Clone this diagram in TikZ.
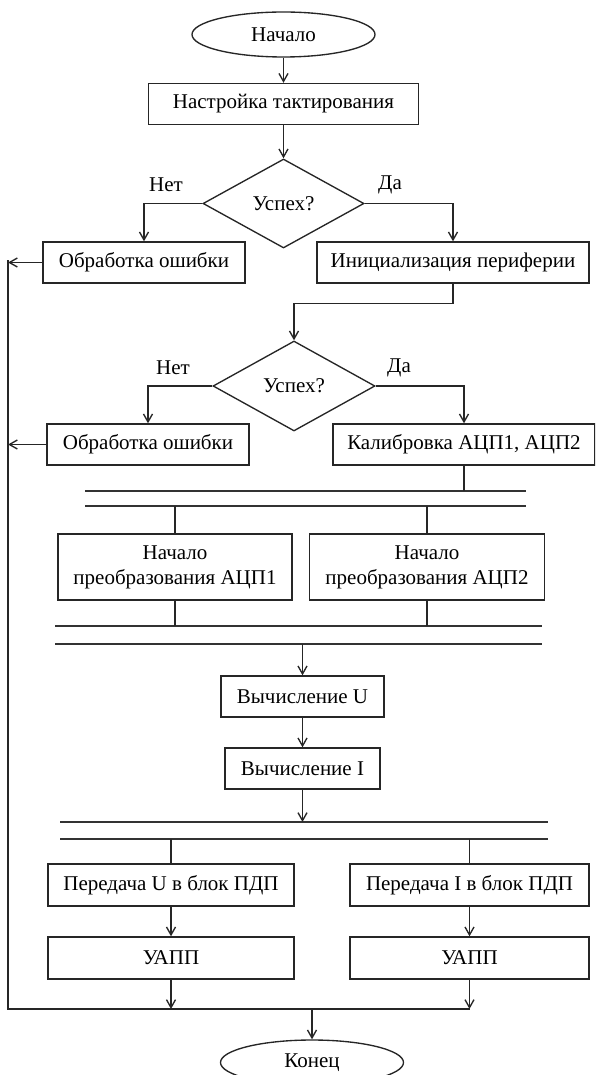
\documentclass[tikz,border=0pt]{standalone}
\usepackage{fontspec}
\setmainfont{Liberation Serif}
\usetikzlibrary{shapes.geometric,arrows.meta}
\begin{document}
\begin{tikzpicture}[x=1pt,y=-1pt,
  every node/.style={font=\fontsize{21}{25}\selectfont, inner sep=0pt, text=black},
  ln/.style={draw=black!85, line width=1.35pt},
  arr/.style={ln, -{Straight Barb[length=8pt,width=9pt,line width=1.35pt]}},
  blk/.style={ln, rectangle, minimum height=41pt},
  term/.style={ln, ellipse, minimum width=183pt, minimum height=45pt},
  cond/.style={ln, diamond, minimum width=161pt, minimum height=89pt},
  bar/.style={draw=black!80, line width=1.35pt}
]
\path[use as bounding box] (0,0) rectangle (595,1075);
\clip (0,0) rectangle (595,1075);

% nodes
\node[term] (start) at (283.5,34.5) {Начало};
\node[blk, minimum width=270pt] (clk) at (283.5,104) {Настройка тактирования};
\node[cond] (d1) at (283.5,203.5) {Успех?};
\node[blk, minimum width=202pt] (err1) at (144,262.5) {Обработка ошибки};
\node[blk, minimum width=272pt] (init) at (453,262.5) {Инициализация периферии};
\node (no1) at (166,185) {Нет};
\node (yes1) at (390,185) {Да};

\node[cond, minimum width=162pt, minimum height=90pt] (d2) at (294,386) {Успех?};
\node[blk, minimum width=202pt] (err2) at (148,444.5) {Обработка ошибки};
\node[blk, minimum width=262pt] (cal) at (464,444.5) {Калибровка АЦП1, АЦП2};
\node (no2) at (173,368) {Нет};
\node (yes2) at (399,368) {Да};

\node[blk, minimum width=234pt, minimum height=66pt, align=center] (adc1) at (175,567) {Начало\\преобразования АЦП1};
\node[blk, minimum width=235pt, minimum height=66pt, align=center] (adc2) at (427,567) {Начало\\преобразования АЦП2};

\node[blk, minimum width=163pt] (calcU) at (302.5,696.5) {Вычисление U};
\node[blk, minimum width=155pt] (calcI) at (302.5,768.5) {Вычисление I};

\node[blk, minimum width=246pt, minimum height=42pt] (txU) at (171,885) {Передача U в блок ПДП};
\node[blk, minimum width=239pt, minimum height=42pt] (txI) at (469.5,885) {Передача I в блок ПДП};
\node[blk, minimum width=246pt, minimum height=42pt] (uappU) at (171,958) {УАПП};
\node[blk, minimum width=239pt, minimum height=42pt] (uappI) at (469.5,958) {УАПП};

\node[term] (end) at (312,1062.5) {Конец};

% coordinates
\coordinate (b1l) at (85,491);  \coordinate (b1r) at (526,491);
\coordinate (b2l) at (85,506);  \coordinate (b2r) at (526,506);
\coordinate (b3l) at (55,626);  \coordinate (b3r) at (542,626);
\coordinate (b4l) at (55,644);  \coordinate (b4r) at (542,644);
\coordinate (b5l) at (60,822);  \coordinate (b5r) at (548,822);
\coordinate (b6l) at (60,839);  \coordinate (b6r) at (548,839);
\coordinate (rtop) at (8,260);
\coordinate (rbot) at (8,1009);
\coordinate (join) at (470,1009);
\coordinate (mid) at (312,1009);

% bars
\draw[bar] (b1l) -- (b1r);
\draw[bar] (b2l) -- (b2r);
\draw[bar] (b3l) -- (b3r);
\draw[bar] (b4l) -- (b4r);
\draw[bar] (b5l) -- (b5r);
\draw[bar] (b6l) -- (b6r);

% connectors
\draw[arr] (start) -- (clk);
\draw[arr] (clk) -- (d1);
\draw[arr] (d1.west) -| (err1.north);
\draw[arr] (d1.east) -| (init.north);
\draw[arr] (init.south) -- ++(0,20) -| (d2.north);
\draw[arr] (d2.west) -| (err2.north);
\draw[arr] (d2.east) -| (cal.north);
\draw[arr] (err1.west) -- (err1.west -| rtop);
\draw[arr] (err2.west) -- (err2.west -| rtop);
\draw[ln] (cal.south) -- (cal.south |- b1l);
\draw[ln] (adc1.north |- b2l) -- (adc1.north);
\draw[ln] (adc2.north |- b2l) -- (adc2.north);
\draw[ln] (adc1.south) -- (adc1.south |- b3l);
\draw[ln] (adc2.south) -- (adc2.south |- b3l);
\draw[arr] (calcU.north |- b4l) -- (calcU.north);
\draw[arr] (calcU) -- (calcI);
\draw[arr] (calcI.south) -- (calcI.south |- b5l);
\draw[ln] (txU.north |- b6l) -- (txU.north);
\draw[ln] (txI.north |- b6l) -- (txI.north);
\draw[arr] (txU) -- (uappU);
\draw[arr] (txI) -- (uappI);
\draw[arr] (uappU.south) -- (uappU.south |- rbot);
\draw[arr] (uappI.south) -- (uappI.south |- rbot);
\draw[ln] (rtop) -- (rbot) -- (join);
\draw[arr] (mid) -- (end);
\end{tikzpicture}
\end{document}
